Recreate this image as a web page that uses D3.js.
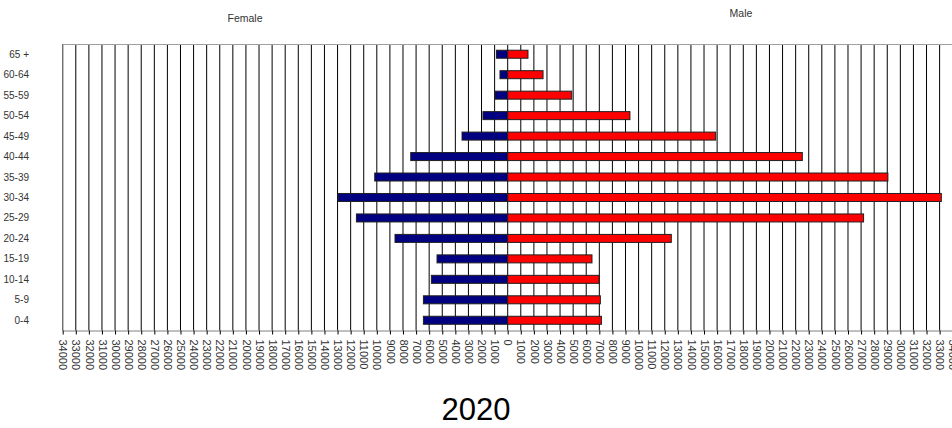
<!DOCTYPE html>
<html>
<head>
<meta charset="utf-8">
<script src="https://cdn.jsdelivr.net/npm/d3@7"></script>
<style>
  html, body { margin: 0; padding: 0; background: #fff; overflow: hidden; }
  svg { display: block; }
  text { font-family: Arial, "Liberation Sans", sans-serif; }
</style>
</head>
<body>
<svg id="chart" width="952" height="428"></svg>
<script>
const categories = ["65 +","60-64","55-59","50-54","45-49","40-44","35-39","30-34","25-29","20-24","15-19","10-14","5-9","0-4"];
const female = [860, 590, 970, 1890, 3490, 7410, 10160, 12960, 11560, 8610, 5400, 5830, 6440, 6440];
const male = [1550, 2700, 4890, 9340, 15890, 22510, 29050, 33130, 27190, 12500, 6440, 6980, 7080, 7160];
const tickValues = d3.range(-34000, 34001, 1000);
const title = "2020";

(function () {
const svg = d3.select("#chart");
const pLeft = 62.7, pRight = 952.7, pTop = 44, pBottom = 330.5;

const x = d3.scaleLinear().domain([-34000, 34000]).range([pLeft, pRight]);
const yc = d3.scaleBand().domain(categories).range([pTop, pBottom]);

// gridlines
svg.append("g").selectAll("line").data(tickValues).join("line")
  .attr("x1", d => x(d)).attr("x2", d => x(d))
  .attr("y1", pTop).attr("y2", pBottom)
  .attr("stroke", "#000").attr("stroke-width", 1);

// frame top & left
svg.append("line").attr("x1", pLeft).attr("x2", pRight).attr("y1", pTop + 0.5).attr("y2", pTop + 0.5)
  .attr("stroke", "#a0a0a0").attr("stroke-width", 1);
svg.append("line").attr("x1", pLeft).attr("x2", pLeft).attr("y1", pTop).attr("y2", pBottom)
  .attr("stroke", "#808080").attr("stroke-width", 1);

// bars
const rows = categories.map((c, i) => ({ c, f: female[i], m: male[i] }));
svg.append("g").selectAll("rect").data(rows).join("rect")
  .attr("x", d => x(-d.f)).attr("width", d => x(0) - x(-d.f))
  .attr("y", d => yc(d.c) + yc.bandwidth() / 2 - 4).attr("height", 8)
  .attr("fill", "#000080").attr("stroke", "#202020").attr("stroke-width", 1);
svg.append("g").selectAll("rect").data(rows).join("rect")
  .attr("x", x(0)).attr("width", d => x(d.m) - x(0))
  .attr("y", d => yc(d.c) + yc.bandwidth() / 2 - 4).attr("height", 8)
  .attr("fill", "#ff0000").attr("stroke", "#202020").attr("stroke-width", 1);

// bottom axis
const axis = d3.axisBottom(x).tickValues(tickValues).tickFormat(d => Math.abs(d)).tickSizeInner(4).tickSizeOuter(0);
const gx = svg.append("g").attr("transform", `translate(0,${pBottom})`).call(axis);
gx.select(".domain").attr("stroke", "#808080");
gx.selectAll(".tick line").attr("stroke", "#000");
gx.selectAll(".tick text")
  .attr("transform", "rotate(90)")
  .attr("x", 9).attr("y", 0).attr("dy", "0.35em")
  .attr("text-anchor", "start")
  .attr("font-size", 11)
  .attr("font-family", "Arial, 'Liberation Sans', sans-serif")
  .attr("fill", "#333");

// category labels
svg.append("g").selectAll("text").data(categories).join("text")
  .attr("x", 29).attr("y", d => yc(d) + yc.bandwidth() / 2)
  .attr("dy", "0.35em").attr("text-anchor", "end")
  .attr("font-size", 10).attr("fill", "#333").text(d => d);

// side labels
svg.append("text").attr("x", 245).attr("y", 22).attr("text-anchor", "middle")
  .attr("font-size", 10.5).attr("fill", "#333").text("Female");
svg.append("text").attr("x", 741).attr("y", 17).attr("text-anchor", "middle")
  .attr("font-size", 10.5).attr("fill", "#333").text("Male");

// title
svg.append("text").attr("x", 476).attr("y", 420).attr("text-anchor", "middle")
  .attr("font-size", 31).attr("fill", "#000").text(title);
})();
</script>
</body>
</html>
